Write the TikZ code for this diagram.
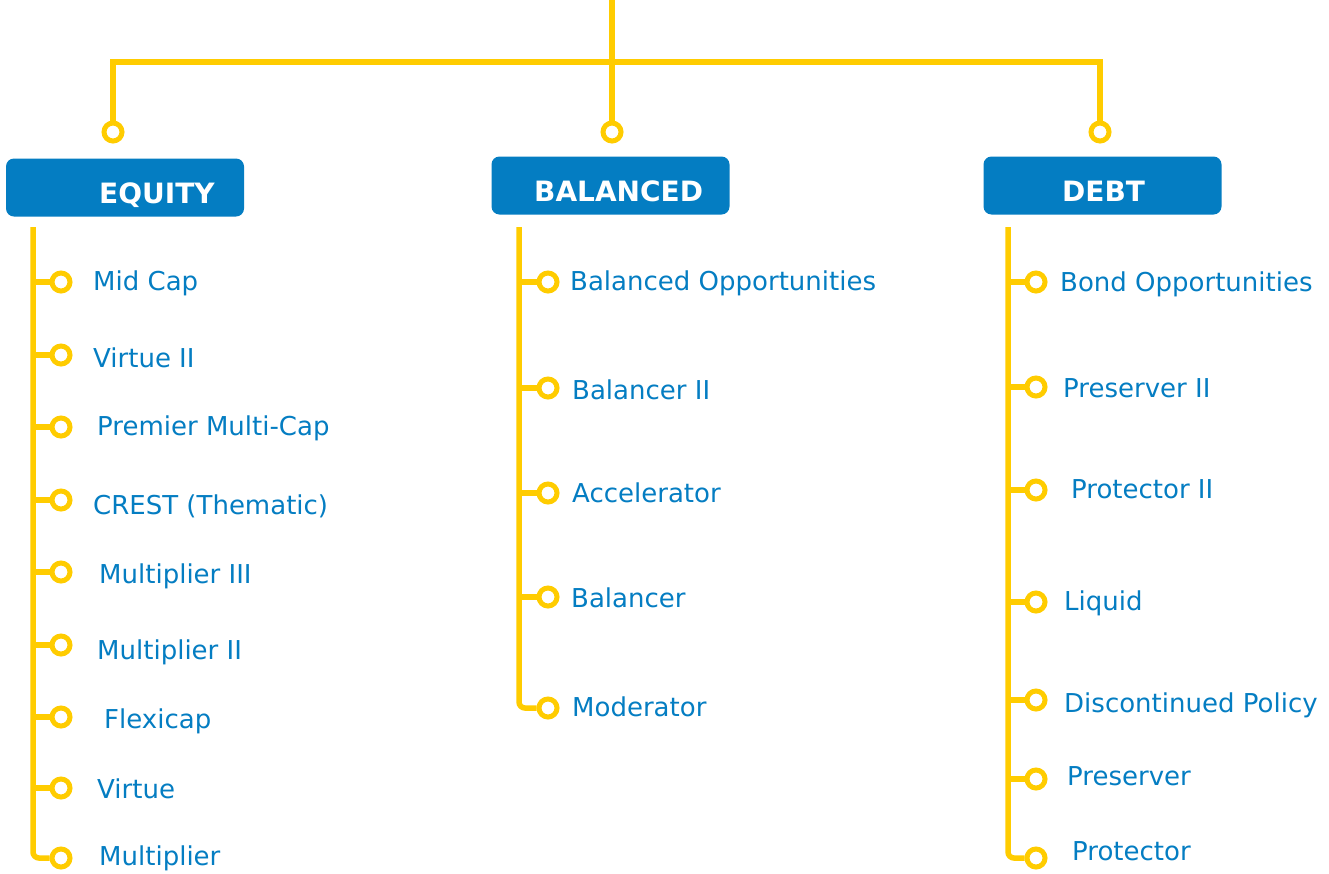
\documentclass[tikz,border=0pt]{standalone}
\usepackage{fontspec}
\setmainfont{DejaVu Sans}
\usepackage{xcolor}
\usepackage{tikz}
\usetikzlibrary{positioning,calc}
\definecolor{fundblue}{RGB}{4,125,194}
\definecolor{linegold}{RGB}{255,204,0}
\tikzset{
  cat/.style={rectangle, rounded corners=8pt, fill=fundblue, minimum width=238pt, minimum height=58pt, inner sep=0pt},
  cattxt/.style={anchor=base west, inner sep=0pt, text=white, font=\fontsize{28}{32}\selectfont\bfseries},
  fund/.style={anchor=base west, inner sep=0pt, text=fundblue, font=\fontsize{26}{30}\selectfont},
  dot/.style={circle, draw=linegold, line width=5pt, fill=white, minimum size=18pt, inner sep=0pt},
  link/.style={draw=linegold, line width=5.5pt}
}
\begin{document}
\begin{tikzpicture}[x=1pt, y=-1pt]
  \useasboundingbox (0,0) rectangle (1329,873);

  % Top split
  \coordinate (root) at (612,0);
  \coordinate (bus) at (612,62);
  \node[dot] (tEq) at (113,132) {};
  \node[dot] (tBal) at (612,132) {};
  \node[dot] (tDebt) at (1100,132) {};
  \draw[link] (root) -- (tBal.north);
  \draw[link] (tEq.north) |- (bus) -| (tDebt.north);

  % Category boxes
  \node[cat] (EQ) at (125,187.5) {};
  \node[cattxt] (EQt) at (99,203) {EQUITY};
  \node[cat] (BAL) at (610.5,185.5) {};
  \node[cattxt] (BALt) at (534,201) {BALANCED};
  \node[cat] (DEBT) at (1102.5,185.5) {};
  \node[cattxt] (DEBTt) at (1062,201) {DEBT};

  % Equity funds
  \coordinate (sE) at (33,227);
  \node[dot] (dE1) at (61,282) {};
  \node[dot] (dE2) at (61,355) {};
  \node[dot] (dE3) at (61,427) {};
  \node[dot] (dE4) at (61,500) {};
  \node[dot] (dE5) at (61,572) {};
  \node[dot] (dE6) at (61,645) {};
  \node[dot] (dE7) at (61,717) {};
  \node[dot] (dE8) at (61,788) {};
  \node[dot] (dE9) at (61,858) {};
  \node[fund] (E1) at (93,290) {Mid Cap};
  \node[fund] (E2) at (93,367) {Virtue II};
  \node[fund] (E3) at (97,435) {Premier Multi-Cap};
  \node[fund] (E4) at (93,514) {CREST (Thematic)};
  \node[fund] (E5) at (99,583) {Multiplier III};
  \node[fund] (E6) at (97,659) {Multiplier II};
  \node[fund] (E7) at (104,728) {Flexicap};
  \node[fund] (E8) at (97,798) {Virtue};
  \node[fund] (E9) at (99,865) {Multiplier};
  \draw[link, rounded corners=6pt] (sE) |- (dE9.west);
  \draw[link] (sE |- dE1) -- (dE1.west);
  \draw[link] (sE |- dE2) -- (dE2.west);
  \draw[link] (sE |- dE3) -- (dE3.west);
  \draw[link] (sE |- dE4) -- (dE4.west);
  \draw[link] (sE |- dE5) -- (dE5.west);
  \draw[link] (sE |- dE6) -- (dE6.west);
  \draw[link] (sE |- dE7) -- (dE7.west);
  \draw[link] (sE |- dE8) -- (dE8.west);

  % Balanced funds
  \coordinate (sB) at (519,227);
  \node[dot] (dB1) at (548,282) {};
  \node[dot] (dB2) at (548,388) {};
  \node[dot] (dB3) at (548,493) {};
  \node[dot] (dB4) at (548,597) {};
  \node[dot] (dB5) at (548,708) {};
  \node[fund] (B1) at (570,290) {Balanced Opportunities};
  \node[fund] (B2) at (572,399) {Balancer II};
  \node[fund] (B3) at (572,502) {Accelerator};
  \node[fund] (B4) at (571,607) {Balancer};
  \node[fund] (B5) at (572,716) {Moderator};
  \draw[link, rounded corners=6pt] (sB) |- (dB5.west);
  \draw[link] (sB |- dB1) -- (dB1.west);
  \draw[link] (sB |- dB2) -- (dB2.west);
  \draw[link] (sB |- dB3) -- (dB3.west);
  \draw[link] (sB |- dB4) -- (dB4.west);

  % Debt funds
  \coordinate (sD) at (1008,227);
  \node[dot] (dD1) at (1036,282) {};
  \node[dot] (dD2) at (1036,387) {};
  \node[dot] (dD3) at (1036,490) {};
  \node[dot] (dD4) at (1036,602) {};
  \node[dot] (dD5) at (1036,700) {};
  \node[dot] (dD6) at (1036,779) {};
  \node[dot] (dD7) at (1036,858) {};
  \node[fund] (D1) at (1060,291) {Bond Opportunities};
  \node[fund] (D2) at (1063,397) {Preserver II};
  \node[fund] (D3) at (1071,498) {Protector II};
  \node[fund] (D4) at (1064,610) {Liquid};
  \node[fund] (D5) at (1064,712) {Discontinued Policy};
  \node[fund] (D6) at (1067,785) {Preserver};
  \node[fund] (D7) at (1072,860) {Protector};
  \draw[link, rounded corners=6pt] (sD) |- (dD7.west);
  \draw[link] (sD |- dD1) -- (dD1.west);
  \draw[link] (sD |- dD2) -- (dD2.west);
  \draw[link] (sD |- dD3) -- (dD3.west);
  \draw[link] (sD |- dD4) -- (dD4.west);
  \draw[link] (sD |- dD5) -- (dD5.west);
  \draw[link] (sD |- dD6) -- (dD6.west);
\end{tikzpicture}
\end{document}
